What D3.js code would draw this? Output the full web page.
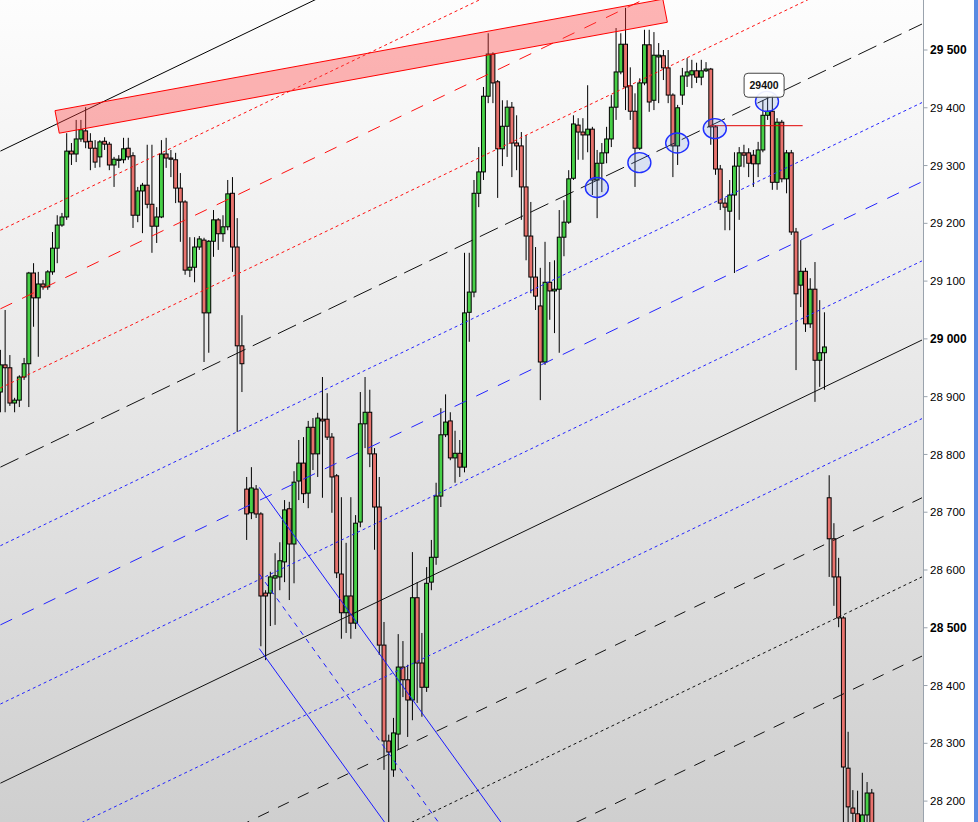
<!DOCTYPE html>
<html><head><meta charset="utf-8">
<script src="https://cdn.jsdelivr.net/npm/d3@7"></script>
<style>html,body{margin:0;padding:0;background:#fff;overflow:hidden}</style>
</head><body>
<svg id="chart" width="978" height="822"></svg>
<script>
// ---------- DATA ----------
const opens = [28908,28955,28950,28889,28894,28934,28957,29114,29071,29095,29090,29116,29157,29197,29211,29325,29320,29346,29360,29342,29330,29315,29342,29337,29301,29310,29310,29330,29317,29214,29256,29266,29233,29195,29211,29320,29313,29310,29261,29237,29119,29124,29159,29171,29045,29169,29206,29182,29194,29252,29159,28988,28740,28699,28740,28697,28560,28560,28586,28588,28614,28706,28645,28754,28785,28733,28847,28801,28861,28861,28830,28763,28593,28526,28555,28508,28683,28853,28873,28801,28709,28470,28304,28254,28316,28432,28410,28375,28552,28439,28397,28579,28622,28728,28834,28858,28794,28802,28778,29046,29081,29252,29289,29420,29493,29445,29329,29368,29401,29339,29334,29263,29178,29107,29057,28960,29098,29083,29086,29176,29202,29278,29370,29358,29353,29363,29275,29304,29322,29346,29401,29462,29510,29438,29394,29330,29443,29509,29413,29488,29490,29469,29422,29334,29422,29455,29457,29464,29453,29464,29467,29367,29294,29235,29221,29249,29299,29322,29322,29318,29303,29327,29387,29394,29271,29375,29277,29322,29185,29093,29117,29026,29086,28963,28976,28725,28654,28588,28517,28257,28188,28178,28150,28176,28214];
const closes = [28955,28950,28889,28894,28934,28957,29114,29071,29095,29090,29116,29157,29197,29211,29325,29320,29346,29362,29341,29330,29306,29341,29337,29301,29311,29311,29329,29315,29214,29256,29266,29233,29195,29211,29320,29313,29311,29261,29237,29119,29124,29159,29173,29045,29169,29206,29182,29194,29251,29159,28988,28957,28697,28742,28697,28555,28555,28588,28590,28616,28704,28645,28752,28785,28732,28847,28801,28863,28858,28830,28761,28595,28526,28555,28508,28681,28853,28873,28801,28709,28470,28304,28285,28318,28432,28410,28375,28552,28439,28397,28577,28622,28728,28834,28856,28794,28802,28778,29045,29081,29252,29289,29420,29493,29443,29329,29368,29401,29339,29334,29263,29178,29107,29074,28960,29098,29083,29086,29176,29202,29277,29372,29358,29353,29363,29275,29304,29322,29346,29401,29462,29510,29436,29394,29330,29443,29509,29410,29491,29491,29469,29422,29334,29400,29455,29462,29464,29453,29464,29467,29367,29294,29235,29228,29249,29299,29322,29318,29304,29303,29327,29387,29394,29271,29375,29277,29322,29185,29078,29117,29026,29086,28963,28976,28986,28654,28588,28517,28259,28190,28179,28150,28176,28214,28150];
const highs = [28981,29050,28972,28898,28937,28967,29116,29131,29116,29102,29119,29185,29214,29218,29356,29339,29379,29379,29401,29356,29344,29344,29349,29341,29315,29318,29348,29348,29323,29263,29270,29336,29336,29228,29344,29348,29327,29322,29287,29240,29176,29176,29178,29175,29171,29223,29209,29214,29275,29280,29209,29041,28761,28778,28747,28700,28565,28597,28629,28648,28721,28718,28771,28825,28830,28858,28863,28872,28934,28906,28837,28766,28726,28647,28726,28695,28908,28934,28912,28811,28761,28510,28315,28344,28489,28477,28436,28631,28579,28491,28605,28652,28751,28880,28904,28873,28841,28825,29149,29149,29275,29332,29436,29529,29496,29448,29413,29413,29410,29387,29358,29353,29237,29159,29123,29168,29133,29136,29223,29240,29292,29387,29382,29382,29439,29367,29327,29339,29367,29422,29538,29529,29573,29470,29425,29451,29535,29535,29531,29512,29500,29500,29425,29405,29469,29486,29483,29478,29483,29479,29469,29370,29301,29244,29275,29323,29332,29336,29330,29327,29341,29413,29422,29422,29382,29379,29327,29327,29192,29171,29123,29105,29133,29067,29046,28764,28681,28621,28520,28320,28219,28218,28249,28233,28221];
const lows = [28873,28873,28884,28873,28882,28929,28882,29021,28969,29085,29085,29111,29131,29194,29206,29301,29306,29341,29330,29292,29296,29297,29327,29292,29263,29296,29304,29310,29192,29202,29183,29226,29149,29166,29209,29296,29280,29235,29168,29111,29107,29098,29154,28960,28976,29142,29154,29168,29188,29116,28839,28908,28652,28688,28690,28468,28444,28503,28505,28565,28579,28548,28577,28721,28716,28707,28773,28761,28725,28825,28699,28586,28481,28491,28481,28498,28674,28811,28778,28635,28453,28254,28150,28242,28290,28380,28311,28340,28370,28346,28389,28565,28609,28709,28830,28790,28751,28761,28769,28995,29072,29228,29275,29408,29408,29244,29299,29315,29280,29292,29206,29136,29079,29050,28894,28955,29033,29010,28976,29143,29199,29275,29310,29310,29323,29249,29209,29254,29304,29332,29379,29458,29396,29379,29263,29327,29439,29393,29396,29408,29448,29408,29280,29301,29405,29436,29434,29443,29439,29462,29336,29284,29223,29188,29188,29114,29206,29297,29280,29263,29280,29323,29379,29258,29258,29271,29252,29180,28946,29055,29012,29019,28891,28917,28912,28588,28538,28501,28160,28150,28150,28130,28130,28150,28130];

const yTicks = [28200,28300,28400,28500,28600,28700,28800,28900,29000,29100,29200,29300,29400,29500];
const boldTicks = [28500,29000,29500];

// parallel channel lines: price at bar 0 and at bar 194.6
const channelBarA = 0, channelBarB = 194.6;
const channelPriceA = [29325,29188,29052,28915,28778,28642,28505,28368,28231,28095,27958,27821,27684];
const channelPriceB = [30092,29955,29819,29682,29545,29409,29272,29135,28998,28862,28725,28588,28451];

// descending blue fork lines: start bar / price and end bar / price
const forkBarA = 54.66, forkBarB = 120;
const forkPriceA = [28743,28593,28464];
const forkPriceB = [28001,27851,27722];

// red resistance band (bar, price) corners
const bandBars = [11.53,139.88,140.83,12.43];
const bandPrices = [29395,29588,29548,29356];

// horizontal level
const levelBars = [149.8,169.4];
const levelPrice = 29369;

// highlighted touches (bar, price)
const touchBars = [125.95,134.92,142.9,150.85,161.87];
const touchPrices = [29262,29305,29339,29364,29411];

// price label
const labelBar = 161.26, labelPrice = 29439, labelText = "29400";

// ---------- RENDER ----------
const W = 978, H = 822, plotR = 923;
const svg = d3.select("#chart");
const defs = svg.append("defs");
const grad = defs.append("linearGradient").attr("id","bg").attr("x1",0).attr("y1",0).attr("x2",0).attr("y2",1);
grad.append("stop").attr("offset","0%").attr("stop-color","#fdfdfd");
grad.append("stop").attr("offset","100%").attr("stop-color","#cfcfcf");
defs.append("clipPath").attr("id","clip").append("rect").attr("x",0).attr("y",0).attr("width",plotR).attr("height",H);

svg.append("rect").attr("x",0).attr("y",0).attr("width",W).attr("height",H).attr("fill","#ffffff");
svg.append("rect").attr("x",0).attr("y",0).attr("width",plotR).attr("height",H).attr("fill","url(#bg)");

const x = d3.scaleLinear().domain([0,194.6]).range([0.4,922]);
const y = d3.scaleLinear().domain([28200,29500]).range([801.1,50]);

const plot = svg.append("g").attr("clip-path","url(#clip)");

const candles = d3.range(opens.length).map(i=>({i,o:opens[i],c:closes[i],h:highs[i],l:lows[i]}));

// wicks
plot.append("g").selectAll("line").data(candles).join("line")
  .attr("x1",d=>x(d.i)).attr("x2",d=>x(d.i))
  .attr("y1",d=>y(d.h)).attr("y2",d=>y(d.l))
  .attr("stroke","#000").attr("stroke-width",1);
// bodies
const bw = 3.9;
plot.append("g").selectAll("rect").data(candles).join("rect")
  .attr("x",d=>x(d.i)-bw/2)
  .attr("y",d=>Math.min(y(d.o),y(d.c)))
  .attr("width",bw)
  .attr("height",d=>Math.max(1.2,Math.abs(y(d.o)-y(d.c))))
  .attr("fill",d=>d.c>=d.o?"#47d047":"#e8736e")
  .attr("stroke","#000").attr("stroke-width",1);

// channel lines
const chStyle = [
  {c:"#000",d:null},{c:"#ff1010",d:"3,3"},{c:"#ff1010",d:"13,11"},{c:"#ff1010",d:"3,3"},
  {c:"#111",d:"20,8"},{c:"#2424ff",d:"3,3"},{c:"#2424ff",d:"13,11"},{c:"#2424ff",d:"3,3"},
  {c:"#111",d:null},{c:"#2424ff",d:"3,3"},{c:"#111",d:"12,10"},{c:"#111",d:"3,3"},{c:"#111",d:"12,10"}
];
plot.append("g").selectAll("line").data(channelPriceA.map((p,k)=>({a:p,b:channelPriceB[k],s:chStyle[k]}))).join("line")
  .attr("x1",x(channelBarA)).attr("x2",x(channelBarB))
  .attr("y1",d=>y(d.a)).attr("y2",d=>y(d.b))
  .attr("stroke",d=>d.s.c).attr("stroke-width",1)
  .attr("stroke-dasharray",d=>d.s.d);

// fork lines
const forkDash = [null,"5,5",null];
plot.append("g").selectAll("line").data(forkPriceA.map((p,k)=>({a:p,b:forkPriceB[k],d:forkDash[k]}))).join("line")
  .attr("x1",x(forkBarA)).attr("x2",x(forkBarB))
  .attr("y1",d=>y(d.a)).attr("y2",d=>y(d.b))
  .attr("stroke","#1a1aff").attr("stroke-width",1)
  .attr("stroke-dasharray",d=>d.d);

// red band
plot.append("polygon")
  .attr("points",bandBars.map((b,k)=>x(b)+","+y(bandPrices[k])).join(" "))
  .attr("fill","rgba(255,60,60,0.38)").attr("stroke","#ff0000").attr("stroke-width",1);

// horizontal level
plot.append("line").attr("x1",x(levelBars[0])).attr("x2",x(levelBars[1]))
  .attr("y1",y(levelPrice)).attr("y2",y(levelPrice))
  .attr("stroke","#e00000").attr("stroke-width",1);

// touch ellipses
plot.append("g").selectAll("ellipse").data(touchBars.map((b,k)=>({b,p:touchPrices[k]}))).join("ellipse")
  .attr("cx",d=>x(d.b)).attr("cy",d=>y(d.p)).attr("rx",11.5).attr("ry",10)
  .attr("fill","rgba(110,150,235,0.2)").attr("stroke","#1f2fff").attr("stroke-width",1.4);

// label
const lg = plot.append("g").attr("transform",`translate(${x(labelBar)},${y(labelPrice)})`);
lg.append("rect").attr("x",-20).attr("y",-12).attr("width",40).attr("height",24).attr("rx",4)
  .attr("fill","rgba(255,255,255,0.92)").attr("stroke","#444").attr("stroke-width",1);
lg.append("text").attr("text-anchor","middle").attr("dy","0.35em")
  .attr("font-family","Liberation Sans, Arial, sans-serif").attr("font-size","10.5px").attr("font-weight","bold")
  .attr("fill","#111").text(labelText);

// axis
svg.append("line").attr("x1",plotR+0.5).attr("x2",plotR+0.5).attr("y1",0).attr("y2",H)
  .attr("stroke","#9aa3ad").attr("stroke-width",1);
const fmt = v => d3.format(",")(v).replace(",", " ");
const tg = svg.append("g").selectAll("g").data(yTicks).join("g")
  .attr("transform",d=>`translate(${plotR},${y(d)})`);
tg.append("line").attr("x1",0.5).attr("x2",4.5).attr("stroke","#9aa3ad");
tg.append("text").attr("x",7).attr("dy","0.36em")
  .attr("font-family","Liberation Sans, Arial, sans-serif")
  .attr("font-size",d=>boldTicks.includes(d)?"12px":"11.5px")
  .attr("font-weight",d=>boldTicks.includes(d)?"bold":"normal")
  .attr("fill","#000").text(fmt);

// right edge stripe
svg.append("rect").attr("x",974).attr("y",0).attr("width",4).attr("height",H).attr("fill","#5a8be2");
</script>
</body></html>
